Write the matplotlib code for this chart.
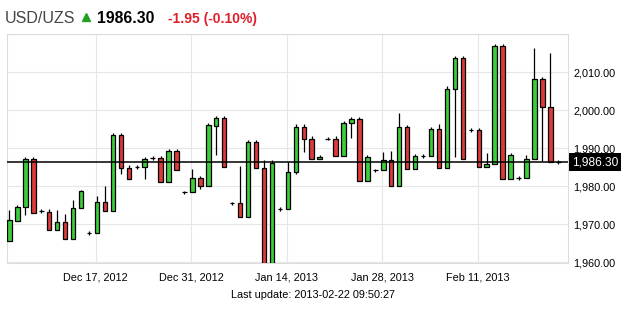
import matplotlib
matplotlib.use("Agg")
import matplotlib.pyplot as plt
from matplotlib.patches import Rectangle
from matplotlib.lines import Line2D
from matplotlib.ticker import FuncFormatter

plt.rcParams["font.family"] = ["Liberation Sans", "DejaVu Sans"]

# daily USD/UZS candles
opens = [1965.4, 1970.9, 1974.4, 1987.1, 1973.4, 1973.2, 1968.3, 1970.4, 1966.0, 1974.1,
         1967.7, 1967.6, 1975.7, 1973.3, 1993.3, 1984.7, 1985.1, 1984.9, 1987.3, 1987.4,
         1981.0, 1989.1, 1978.3, 1978.4, 1982.0, 1979.9, 1995.9, 1997.8, 1975.4, 1975.4,
         1971.8, 1991.5, 1984.7, 1955.0, 1973.9, 1973.9, 1983.6, 1995.6, 1992.5, 1987.0,
         1992.5, 1992.5, 1987.8, 1996.5, 1997.6, 1981.2, 1984.1, 1984.1, 1986.8, 1979.9,
         1995.4, 1984.4, 1987.8, 1987.8, 1994.9, 1984.7, 2005.4, 2013.6, 1994.7, 1994.7,
         1984.9, 1985.7, 2016.9, 1981.8, 1982.2, 1982.0, 1987.0, 2008.1, 2000.7, 1986.3]
highs = [1973.7, 1975.1, 1987.7, 1987.7, 1973.9, 1974.0, 1973.7, 1972.6, 1976.3, 1979.0,
         1968.2, 1977.4, 1980.1, 1993.9, 1993.9, 1985.4, 1985.6, 1987.6, 1987.9, 1987.9,
         1989.7, 1989.7, 1978.8, 1984.5, 1982.6, 1996.5, 1998.4, 1998.4, 1975.9, 1985.3,
         1992.1, 1992.1, 1986.8, 1986.8, 1974.4, 1986.3, 1996.2, 1996.2, 1993.2, 1988.2,
         1993.0, 1993.2, 1997.1, 1998.2, 1998.2, 1988.2, 1984.6, 1988.9, 1989.2, 1999.3,
         1996.0, 1988.4, 1988.3, 1995.5, 1996.2, 2006.2, 2014.2, 2014.2, 1995.2, 1995.2,
         1988.6, 2017.4, 2017.4, 1988.8, 1982.7, 1988.1, 2016.4, 2008.6, 2015.1, 1986.8]
lows = [1965.4, 1970.9, 1972.3, 1972.8, 1972.9, 1968.3, 1968.3, 1966.0, 1966.0, 1974.1,
        1967.2, 1967.6, 1973.3, 1973.3, 1983.2, 1981.8, 1984.6, 1981.8, 1986.9, 1981.0,
        1981.0, 1984.1, 1977.8, 1978.4, 1979.3, 1979.9, 1988.2, 1984.9, 1974.9, 1971.8,
        1971.8, 1984.7, 1955.0, 1955.0, 1973.4, 1973.9, 1983.1, 1989.0, 1987.0, 1987.0,
        1992.0, 1987.8, 1987.8, 1992.7, 1981.2, 1981.2, 1983.6, 1984.1, 1979.9, 1979.9,
        1984.4, 1984.4, 1987.3, 1987.8, 1984.7, 1984.7, 1987.7, 1987.1, 1994.2, 1984.9,
        1984.9, 1985.7, 1981.8, 1981.8, 1981.7, 1982.0, 1987.0, 1986.7, 1986.3, 1985.8]
closes = [1971.0, 1974.4, 1987.1, 1972.8, 1973.4, 1968.3, 1970.4, 1966.0, 1974.1, 1978.6,
          1967.7, 1975.7, 1973.3, 1993.3, 1984.7, 1981.8, 1985.1, 1987.0, 1987.5, 1981.0,
          1989.1, 1984.1, 1978.3, 1982.0, 1979.9, 1996.0, 1997.8, 1984.9, 1975.4, 1971.8,
          1991.5, 1984.7, 1955.0, 1986.1, 1973.9, 1983.6, 1995.6, 1992.5, 1987.0, 1987.6,
          1992.5, 1987.8, 1996.5, 1997.6, 1981.2, 1987.6, 1984.1, 1986.8, 1979.9, 1995.4,
          1984.4, 1987.8, 1987.8, 1994.9, 1984.7, 2005.4, 2013.6, 1987.1, 1994.7, 1984.9,
          1985.7, 2016.9, 1981.8, 1988.2, 1982.2, 1987.0, 2008.1, 2000.7, 1986.3, 1986.3]

tick_pos = [10.85, 22.85, 34.85, 46.85, 58.85]
tick_labels = ["Dec 17, 2012", "Dec 31, 2012", "Jan 14, 2013", "Jan 28, 2013", "Feb 11, 2013"]

last_price = 1986.30
change = "-1.95 (-0.10%)"
pair = "USD/UZS"
updated = "Last update: 2013-02-22 09:50:27"

up_col = "#3ccc3c"
down_col = "#dd3b3b"

fig = plt.figure(figsize=(6.25, 3.09), dpi=100)
ax = fig.add_axes([7 / 625, 1 - 263 / 309, 561 / 625, 229 / 309])

w = 0.56
for i in range(len(opens)):
    o, h, l, c = opens[i], highs[i], lows[i], closes[i]
    ax.vlines(i, l, h, color="black", lw=0.9, zorder=2)
    col = up_col if c >= o else down_col
    ax.add_patch(Rectangle((i - w / 2, min(o, c)), w, abs(c - o),
                           facecolor=col, edgecolor="black", lw=0.9, zorder=3))

ax.axhline(last_price, color="black", lw=1.1, zorder=4)
ax.text(1.0 + 4 / 561, last_price, f"{last_price:,.2f}",
        transform=ax.get_yaxis_transform(), ha="left", va="center",
        color="white", fontsize=8.6, clip_on=False,
        bbox=dict(boxstyle="square,pad=0.22", fc="black", ec="none"))

ax.set_xlim(-0.31, 70.22)
ax.set_ylim(1959.74, 2020.0)
ax.set_yticks([1960, 1970, 1980, 1990, 2000, 2010, 2020])
ax.yaxis.set_major_formatter(FuncFormatter(lambda v, p: "" if v >= 2020 else f"{v:,.2f}"))
ax.yaxis.tick_right()
ax.set_xticks(tick_pos)
ax.set_xticklabels(tick_labels)
ax.tick_params(axis="both", length=0, labelsize=7.8, colors="black")
ax.tick_params(axis="y", pad=4)
ax.tick_params(axis="x", pad=7)
ax.grid(True, color="#e6e6e6", lw=0.8)
ax.set_axisbelow(True)
for s in ax.spines.values():
    s.set_color("#dcdcdc")
    s.set_linewidth(0.8)

base = 1 - 23 / 309
fig.text(5 / 625, base, pair, fontsize=11.5, color="#444444", va="baseline")
fig.add_artist(Line2D([86 / 625], [1 - 17 / 309], marker="^", ms=5.5,
                      color="#22a022", transform=fig.transFigure))
fig.text(97 / 625, base, f"{last_price:.2f}", fontsize=11.3, fontweight="bold",
         color="black", va="baseline")
fig.text(168 / 625, base, change, fontsize=10, fontweight="bold",
         color="#e0202a", va="baseline")
fig.text(313 / 625, 1 - 295 / 309, updated, fontsize=7.8, ha="center", va="center")

fig.savefig("out.png", dpi=100)
